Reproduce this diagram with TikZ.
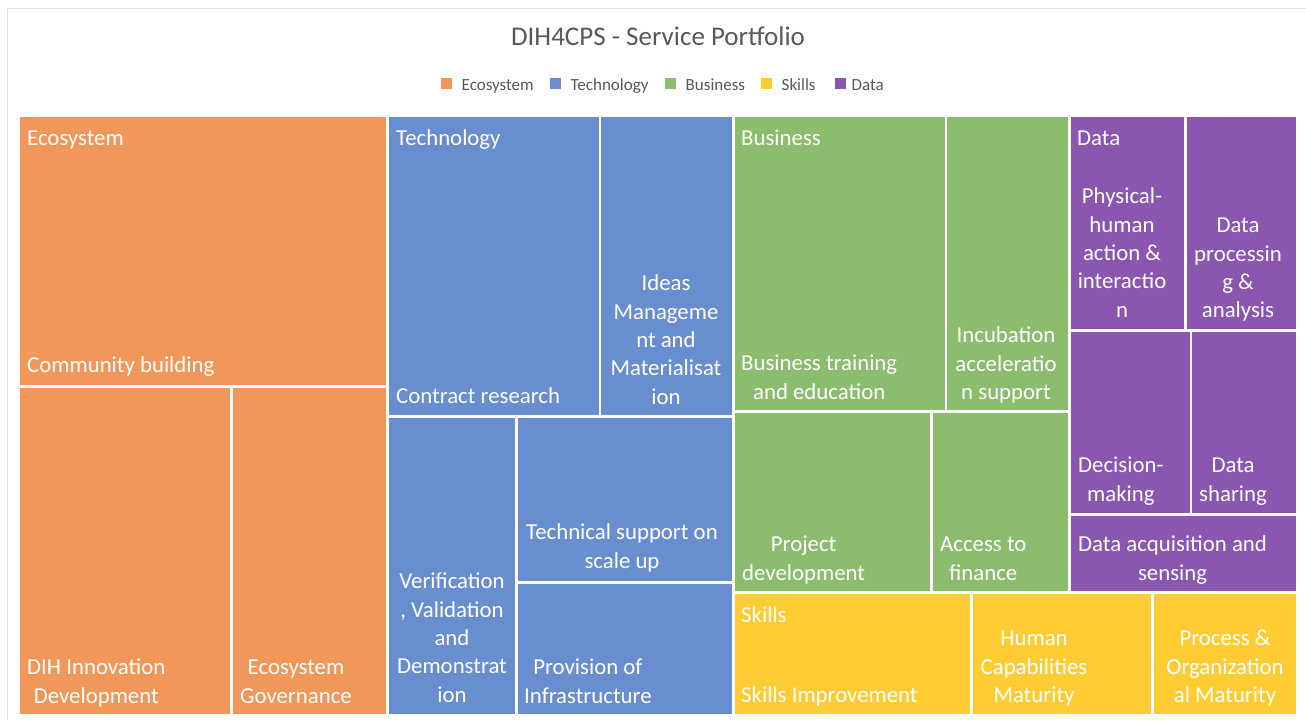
\documentclass[tikz,border=0pt]{standalone}
\usepackage{fontspec}
\setmainfont{Carlito}
\definecolor{ceco}{HTML}{F1975A}
\definecolor{ctech}{HTML}{698ED0}
\definecolor{cbus}{HTML}{8CBD6E}
\definecolor{cskill}{HTML}{FFCD33}
\definecolor{cdata}{HTML}{8A56B0}
\definecolor{ctitle}{HTML}{595959}
\definecolor{cframe}{HTML}{E3E3E3}
\begin{document}
\begin{tikzpicture}[x=1pt,y=-1pt,
  lbl/.style={inner sep=0pt, text=white, font=\fontsize{22.8}{28.4}\selectfont, align=center},
  lgd/.style={inner sep=0pt, text=ctitle, font=\fontsize{17}{20}\selectfont, anchor=base west},
  sq/.style={}]
\useasboundingbox (0,0) rectangle (1306,720);
\fill[white] (0,0) rectangle (1306,720);
% frame
\draw[cframe, line width=1.5pt] (7.5,720) -- (7.5,8.5) -- (1306,8.5);
% title
\node[inner sep=0pt, text=ctitle, font=\fontsize{27}{32}\selectfont, anchor=base] (title) at (658,45) {DIH4CPS - Service Portfolio};
% legend
\fill[ceco]   (441,77.5) rectangle (452,89);
\fill[ctech]  (550,77.5) rectangle (561,89);
\fill[cbus]   (665,77.5) rectangle (676,89);
\fill[cskill] (761,77.5) rectangle (772,89);
\fill[cdata]  (835,77.5) rectangle (846,89);
\node[lgd] (lgeco)   at (461.5,90) {Ecosystem};
\node[lgd] (lgtech)  at (570.5,90) {Technology};
\node[lgd] (lgbus)   at (685.5,90) {Business};
\node[lgd] (lgskill) at (781.5,90) {Skills};
\node[lgd] (lgdata)  at (851.5,90) {Data};
% Ecosystem tiles
\fill[ceco] (20,117) rectangle (386,385);
\fill[ceco] (20,388) rectangle (230,714);
\fill[ceco] (233,388) rectangle (386,714);
% Technology tiles
\fill[ctech] (389,117) rectangle (599,415);
\fill[ctech] (601,117) rectangle (732,415);
\fill[ctech] (389,418) rectangle (515,714);
\fill[ctech] (518,418) rectangle (732,581);
\fill[ctech] (518,583.5) rectangle (732,714);
% Business tiles
\fill[cbus] (735,117) rectangle (945,410);
\fill[cbus] (947,117) rectangle (1068,410);
\fill[cbus] (735,413) rectangle (930,591);
\fill[cbus] (933,413) rectangle (1068,591);
% Data tiles
\fill[cdata] (1071,117) rectangle (1184,329);
\fill[cdata] (1187,117) rectangle (1296,329);
\fill[cdata] (1071,332) rectangle (1190,513);
\fill[cdata] (1192,332) rectangle (1296,513);
\fill[cdata] (1071,516) rectangle (1296,591);
% Skills tiles
\fill[cskill] (735,594) rectangle (970,714);
\fill[cskill] (973,594) rectangle (1151,714);
\fill[cskill] (1154,594) rectangle (1296,714);
% parent labels
\node[lbl, anchor=north west] (heco)   at (27,125.6)  {\strut Ecosystem};
\node[lbl, anchor=north west] (htech)  at (396,125.6) {\strut Technology};
\node[lbl, anchor=north west] (hbus)   at (741,125.6) {\strut Business};
\node[lbl, anchor=north west] (hdata)  at (1077,125.6) {\strut Data};
\node[lbl, anchor=north west] (hskill) at (741,602.6) {\strut Skills};
% leaf labels (left-placed)
\node[lbl, anchor=north west] (cb)  at (27,352.6)  {\strut Community building};
\node[lbl, anchor=north west] (dih) at (27,654.6)  {\strut DIH Innovation\\Development};
\node[lbl, anchor=north west] (eg)  at (240,654.6) {\strut Ecosystem\\Governance};
\node[lbl, anchor=north west] (cr)  at (396,383.6) {\strut Contract research};
\node[lbl, anchor=north west] (pi)  at (524,654.6) {\strut Provision of\\Infrastructure};
\node[lbl, anchor=north west] (bt)  at (741,350.6) {\strut Business training\\and education};
\node[lbl, anchor=north west] (pd)  at (742,531.6) {\strut Project\\development};
\node[lbl, anchor=north west] (af)  at (940,531.6) {\strut Access to\\finance};
\node[lbl, anchor=north west] (dm)  at (1078,452.6) {\strut Decision-\\making};
\node[lbl, anchor=north west] (ds)  at (1199,452.6) {\strut Data\\sharing};
\node[lbl, anchor=north west] (da)  at (1078,531.6) {\strut Data acquisition and\\sensing};
\node[lbl, anchor=north west] (si)  at (741,682.6) {\strut Skills Improvement};
% leaf labels (centred)
\node[lbl, anchor=north] (im) at (666,270.6) {\strut Ideas\\Manageme\\nt and\\Materialisat\\ion};
\node[lbl, anchor=north] (ia) at (1006,322.6) {\strut Incubation\\acceleratio\\n support};
\node[lbl, anchor=north] (vv) at (452,568.6) {\strut Verification\\, Validation\\and\\Demonstrat\\ion};
\node[lbl, anchor=north] (ts) at (622,519.6) {\strut Technical support on\\scale up};
\node[lbl, anchor=north] (ph) at (1122,183.6) {\strut Physical-\\human\\action \&\\interactio\\n};
\node[lbl, anchor=north] (dp) at (1238,212.6) {\strut Data\\processin\\g \&\\analysis};
\node[lbl, anchor=north] (hc) at (1034,625.6) {\strut Human\\Capabilities\\Maturity};
\node[lbl, anchor=north] (po) at (1225,625.6) {\strut Process \&\\Organization\\al Maturity};
\end{tikzpicture}
\end{document}
